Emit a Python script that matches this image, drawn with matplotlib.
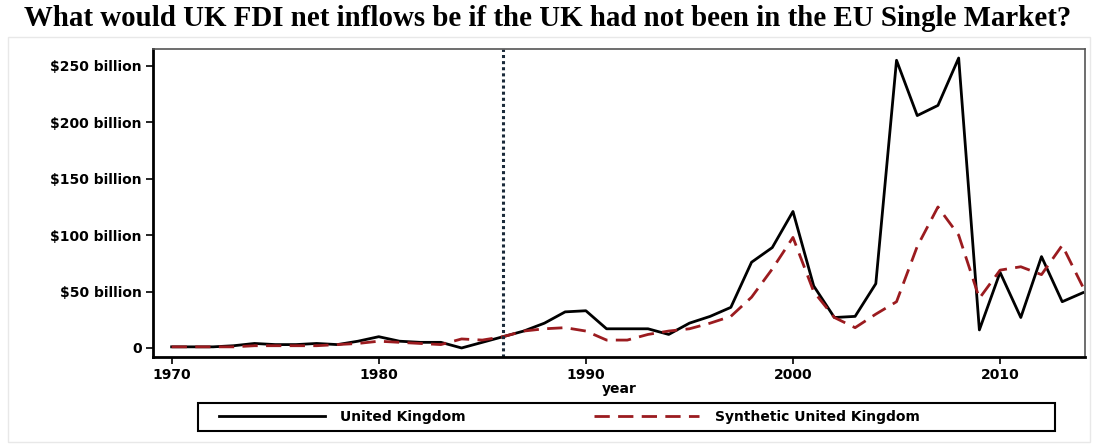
import matplotlib.pyplot as plt
from matplotlib.ticker import FixedLocator
from matplotlib.patches import Rectangle

# data (US$ billion)
years = list(range(1970, 2015))
uk = [1, 1, 1, 2, 4, 3, 3, 4, 3, 6,
      10, 6, 5, 5, 0, 5, 10, 15, 22, 32,
      33, 17, 17, 17, 12, 22, 28, 36, 76, 89,
      121, 55, 27, 28, 57, 255, 206, 215, 257, 16,
      67, 27, 81, 41, 49]
synth = [1, 1, 1, 1, 2, 2, 2, 2, 3, 4,
         6, 5, 4, 3, 8, 7, 10, 15, 17, 18,
         15, 7, 7, 12, 15, 17, 22, 28, 45, 70,
         98, 50, 27, 18, 30, 41, 90, 125, 100, 44,
         69, 72, 65, 91, 54]
treat_year = 1986

y_ticks = [0, 50, 100, 150, 200, 250]
y_labels = ['0', '$50 billion', '$100 billion', '$150 billion',
            '$200 billion', '$250 billion']
x_ticks = [1970, 1980, 1990, 2000, 2010]

W, H = 1096, 444
plt.rcParams['font.family'] = ['DejaVu Sans']

fig = plt.figure(figsize=(W / 100, H / 100), dpi=100)

# faint outer frame of the screenshot
fig.patches.append(Rectangle((8 / W, 1 - 442 / H), (1090 - 8) / W, (442 - 37) / H,
                             transform=fig.transFigure, fill=False,
                             edgecolor='#e8e8e8', lw=1))

ax = fig.add_axes([153 / W, 1 - 357 / H, (1085 - 153) / W, (357 - 49) / H])

l1, = ax.plot(years, uk, color='black', lw=2, label='United Kingdom')
l2, = ax.plot(years, synth, color='#9b1b1f', lw=2, ls=(0, (5.5, 3)),
              label='Synthetic United Kingdom')
ax.axvline(treat_year, color='#1a2a3a', lw=2.2, ls=(0, (1, 1)))

ax.set_xlim(1969.1, 2014.1)
ax.set_ylim(-8, 265)
ax.yaxis.set_major_locator(FixedLocator(y_ticks))
ax.set_yticklabels(y_labels)
ax.set_xticks(x_ticks)
ax.tick_params(axis='both', direction='out', length=5, width=1.2, labelsize=10, pad=3)
for lab in ax.get_xticklabels() + ax.get_yticklabels():
    lab.set_fontweight('bold')
ax.set_xlabel('year', fontsize=10, fontweight='bold', labelpad=0)

for s in ['left', 'bottom']:
    ax.spines[s].set_linewidth(2)
for s in ['top', 'right']:
    ax.spines[s].set_linewidth(1.2)
    ax.spines[s].set_color('#555555')

# legend box (Stata style, fixed width)
fig.patches.append(Rectangle((198 / W, 1 - 431 / H), (1055 - 198) / W, (431 - 403) / H,
                             transform=fig.transFigure, fill=False,
                             edgecolor='black', lw=1.5))
fig.legend(handles=[l1, l2], loc='center left', bbox_to_anchor=(212 / W, 1 - 417 / H),
           ncol=2, frameon=False, borderpad=0, handlelength=7.6, handletextpad=1.15,
           columnspacing=9.2, prop={'weight': 'bold', 'size': 10})

fig.text(24 / W, 1 - 26 / H,
         'What would UK FDI net inflows be if the UK had not been in the EU Single Market?',
         family='Liberation Serif', fontweight='bold', fontsize=20.8, va='baseline', ha='left')

plt.savefig('out.png', dpi=100)
